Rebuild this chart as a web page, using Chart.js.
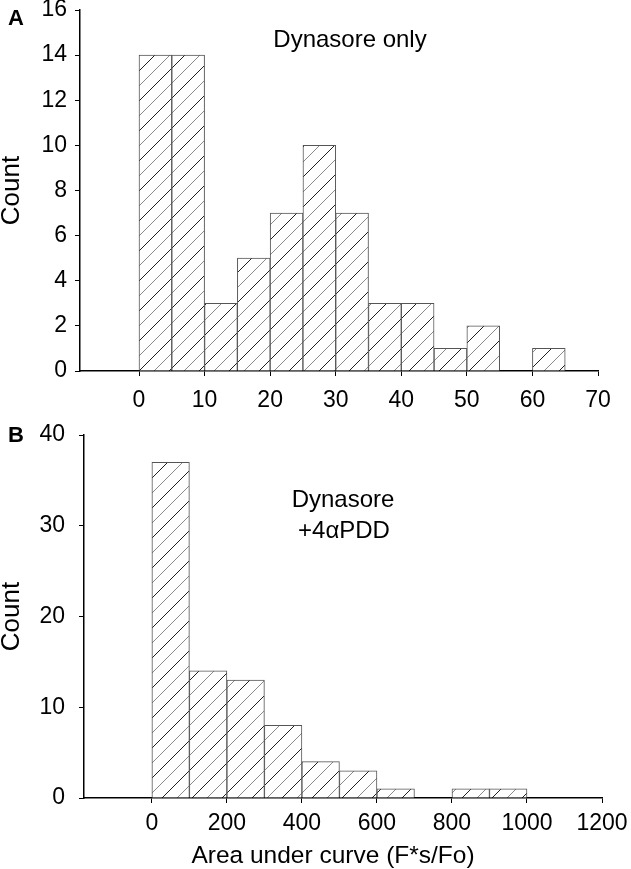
<!DOCTYPE html>
<html>
<head>
<meta charset="utf-8">
<script src="https://cdn.jsdelivr.net/npm/chart.js@4.4.0/dist/chart.umd.min.js"></script>
<style>
  body { margin: 0; background: #fff; width: 631px; height: 869px; overflow: hidden; position: relative; }
  canvas { position: absolute; left: 0; }
  #chartA { top: 0; }
  #chartB { top: 420px; }
</style>
</head>
<body>
<canvas id="chartA" width="631" height="430"></canvas>
<canvas id="chartB" width="631" height="449"></canvas>
<script>
// panel A - Dynasore only (bins of 5)
const binStartA = [0, 5, 10, 15, 20, 25, 30, 35, 40, 45, 50, 55, 60];
const countA = [14, 14, 3, 5, 7, 10, 7, 3, 3, 1, 2, 0, 1];
const binWidthA = 5;
const xTicksA = [0, 10, 20, 30, 40, 50, 60, 70];

// panel B - Dynasore +4aPDD (bins of 100)
const binStartB = [0, 100, 200, 300, 400, 500, 600, 700, 800, 900];
const countB = [37, 14, 13, 8, 4, 3, 1, 0, 1, 1];
const binWidthB = 100;
const xTicksB = [0, 200, 400, 600, 800, 1000, 1200];

Chart.defaults.font.family = "'Liberation Sans', Arial, sans-serif";
Chart.defaults.color = "#000";

// diagonal hatch, black and grey lines alternating
function hatch() {
  const s = 30;
  const c = document.createElement("canvas");
  c.width = s;
  c.height = s;
  const g = c.getContext("2d");
  g.fillStyle = "#fff";
  g.fillRect(0, 0, s, s);
  g.lineWidth = 1;
  for (let k = -30; k <= 90; k += 15) {
    g.strokeStyle = (k % 30 === 0) ? "#222" : "#8a8a8a";
    g.beginPath();
    g.moveTo(k + 2, -2);
    g.lineTo(k - s - 2, s + 2);
    g.stroke();
  }
  return g.createPattern(c, "repeat");
}

// text drawn on top of the plot
function textPlugin(items) {
  return {
    id: "panelText",
    afterDraw(chart) {
      const ctx = chart.ctx;
      ctx.save();
      ctx.fillStyle = "#000";
      ctx.textBaseline = "alphabetic";
      items.forEach((t) => {
        ctx.font = t.font;
        ctx.textAlign = t.align || "left";
        ctx.fillText(t.text, t.x, t.y);
      });
      ctx.restore();
    },
  };
}

function makeHist(id, starts, counts, width, opt) {
  const ctx = document.getElementById(id).getContext("2d");
  return new Chart(ctx, {
    type: "bar",
    data: {
      datasets: [
        {
          data: starts.map((s, i) => ({ x: s + width / 2, y: counts[i] })),
          backgroundColor: hatch(),
          borderColor: "#555",
          borderWidth: 1,
          barPercentage: 1,
          categoryPercentage: 1,
        },
      ],
    },
    options: {
      responsive: false,
      animation: false,
      layout: { padding: opt.padding },
      plugins: { legend: { display: false }, tooltip: { enabled: false } },
      scales: {
        x: {
          type: "linear",
          min: opt.xMin,
          max: opt.xMax,
          offset: false,
          grid: { display: true, offset: false, drawOnChartArea: false, drawTicks: true, tickLength: 5, color: "#000" },
          border: { display: true, color: "#000", width: 1.5 },
          ticks: { font: { size: 23 }, padding: opt.xPad, maxRotation: 0, autoSkip: false, callback: (v) => String(v) },
          afterBuildTicks: (s) => { s.ticks = opt.xTicks.map((v) => ({ value: v })); },
          afterFit: (s) => { s.height = opt.xHeight; s.paddingLeft = 0; s.paddingRight = 0; },
        },
        y: {
          min: 0,
          max: opt.yMax,
          grid: { display: true, drawOnChartArea: false, drawTicks: true, tickLength: 5, color: "#000" },
          border: { display: true, color: "#000", width: 1.5 },
          ticks: { font: { size: 23 }, padding: opt.yPad, stepSize: opt.yStep, callback: (v) => String(v) },
          title: { display: true, text: "Count", font: { size: 26, lineHeight: 0.9 }, padding: 0 },
          afterFit: (s) => { s.width = opt.yWidth; s.paddingTop = 0; s.paddingBottom = 0; },
        },
      },
    },
    plugins: [textPlugin(opt.texts)],
  });
}

makeHist("chartA", binStartA, countA, binWidthA, {
  padding: { top: 10, right: 33, left: 0, bottom: 0 },
  xMin: -9, xMax: 70, xTicks: xTicksA, xHeight: 59, xPad: 11,
  yMax: 16, yStep: 2, yWidth: 80, yPad: 8,
  texts: [
    { text: "A", x: 8, y: 25, font: "bold 22px 'Liberation Sans', Arial" },
    { text: "Dynasore only", x: 350, y: 47, align: "center", font: "24px 'Liberation Sans', Arial" },
  ],
});

makeHist("chartB", binStartB, countB, binWidthB, {
  padding: { top: 15, right: 29, left: 0, bottom: 0 },
  xMin: -181, xMax: 1200, xTicks: xTicksB, xHeight: 71, xPad: 7,
  yMax: 40, yStep: 10, yWidth: 84, yPad: 14,
  texts: [
    { text: "B", x: 8, y: 22, font: "bold 22px 'Liberation Sans', Arial" },
    { text: "Dynasore", x: 343, y: 87, align: "center", font: "24px 'Liberation Sans', Arial" },
    { text: "+4\u03b1PDD", x: 344, y: 118, align: "center", font: "24px 'Liberation Sans', Arial" },
    { text: "Area under curve (F*s/Fo)", x: 333, y: 443, align: "center", font: "24.5px 'Liberation Sans', Arial" },
  ],
});
</script>
</body>
</html>
